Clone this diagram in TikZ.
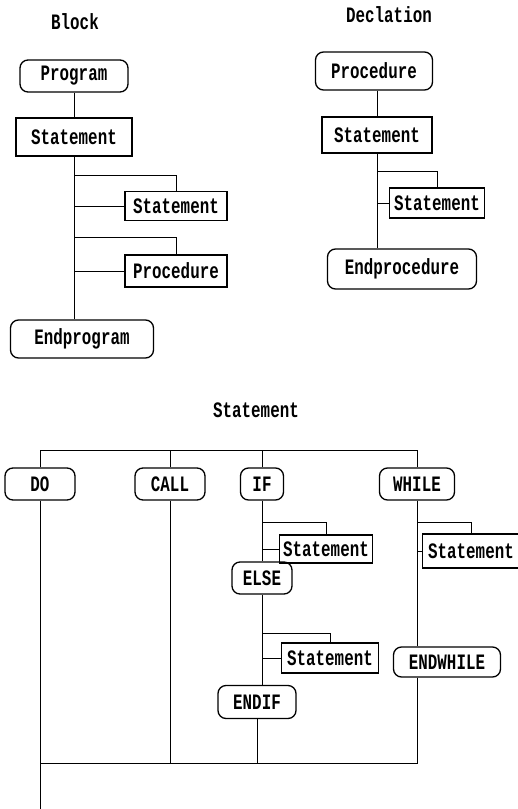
\documentclass[tikz,border=0pt]{standalone}
\usepackage{fontspec}
\newfontfamily\flowfont[FakeStretch=0.72]{Liberation Mono}
\usetikzlibrary{positioning}

\begin{document}
\begin{tikzpicture}[x=1pt, y=-1pt,
    font=\flowfont\bfseries\fontsize{22}{24}\selectfont,
    term/.style={draw, line width=1.3pt, rounded corners=8pt, inner sep=0pt},
    stmt/.style={draw, line width=1.3pt, inner sep=0pt},
    link/.style={line width=0.9pt}]
  \useasboundingbox (0,0) rectangle (518,809);

  \node (tBlock) at (75,22) {Block};
  \node[term, minimum width=108pt, minimum height=32pt] (prog) at (74,76) {Program};
  \node[stmt, minimum width=116pt, minimum height=38pt] (stA) at (74,137) {Statement};
  \node[stmt, minimum width=102pt, minimum height=29pt] (stB) at (176,206) {Statement};
  \node[stmt, minimum width=102pt, minimum height=32pt] (procB) at (176,271) {Procedure};
  \node[term, minimum width=143pt, minimum height=38pt] (endprog) at (82,339) {Endprogram};
  \draw[link] (prog.south) -- (stA.north);
  \draw[link] (stA.south) -- (stA.south |- endprog.north);
  \foreach\n/\y in {stB/175, procB/237}{
    \draw[link] (stA.south |- 0,\y) -| (\n.north);
    \draw[link] (\n.west) -- (\n.west -| stA.south);
  }

  \node (tDecl) at (389,15) {Declation};
  \node[term, minimum width=117pt, minimum height=38pt] (procD) at (374,71) {Procedure};
  \node[stmt, minimum width=110pt, minimum height=36pt] (stD) at (377,135) {Statement};
  \node[stmt, minimum width=95pt, minimum height=30pt] (stE) at (437,203) {Statement};
  \node[term, minimum width=149pt, minimum height=40pt] (endproc) at (402,269) {Endprocedure};
  \draw[link] (procD.south -| stD.north) -- (stD.north);
  \draw[link] (stD.south) -- (stD.south |- endproc.north);
  \draw[link] (stD.south |- 0,171) -| (stE.north);
  \draw[link] (stE.west) -- (stE.west -| stD.south);

  \node (tStmt) at (256,410) {Statement};
  \node[term, minimum width=70pt, minimum height=32pt] (do) at (40,484) {DO};
  \node[term, minimum width=70pt, minimum height=32pt] (call) at (170,484) {CALL};
  \node[term, minimum width=43pt, minimum height=32pt] (if) at (262,484) {IF};
  \node[term, minimum width=75pt, minimum height=32pt] (while) at (417,484) {WHILE};
  \coordinate (top) at (0,450);
  \coordinate (bot) at (0,763);
  \coordinate (tail) at (40,809);
  \draw[link] (do.north) |- (top -| while.north) -- (while.north);
  \foreach\n in {call, if}{
    \draw[link] (\n.north) -- (\n.north |- top);
  }

  \node[stmt, minimum width=93pt, minimum height=28pt] (stIf) at (326,549) {Statement};
  \node[term, minimum width=60pt, minimum height=32pt] (else) at (262,578) {ELSE};
  \node[stmt, minimum width=97pt, minimum height=30pt] (stElse) at (330,658) {Statement};
  \node[term, minimum width=78pt, minimum height=33pt] (endif) at (257,702) {ENDIF};
  \node[stmt, minimum width=97pt, minimum height=34pt] (stW) at (471,551) {Statement};
  \node[term, minimum width=107pt, minimum height=30pt] (endwhile) at (447,662) {ENDWHILE};

  \draw[link] (if.south) -- (else.north);
  \draw[link] (else.south) -- (else.south |- endif.north);
  \draw[link] (while.south) -- (while.south |- endwhile.north);
  \foreach\n/\m/\y in {stIf/if/522, stElse/else/633, stW/while/522}{
    \draw[link] (\m.south |- 0,\y) -| (\n.north);
    \draw[link] (\n.west) -- (\n.west -| \m.south);
  }

  \draw[link] (do.south) -- (tail);
  \draw[link] (endwhile.south -| while.south) |- (bot -| do.south);
  \foreach\n in {call, endif}{
    \draw[link] (\n.south) -- (\n.south |- bot);
  }
\end{tikzpicture}
\end{document}
